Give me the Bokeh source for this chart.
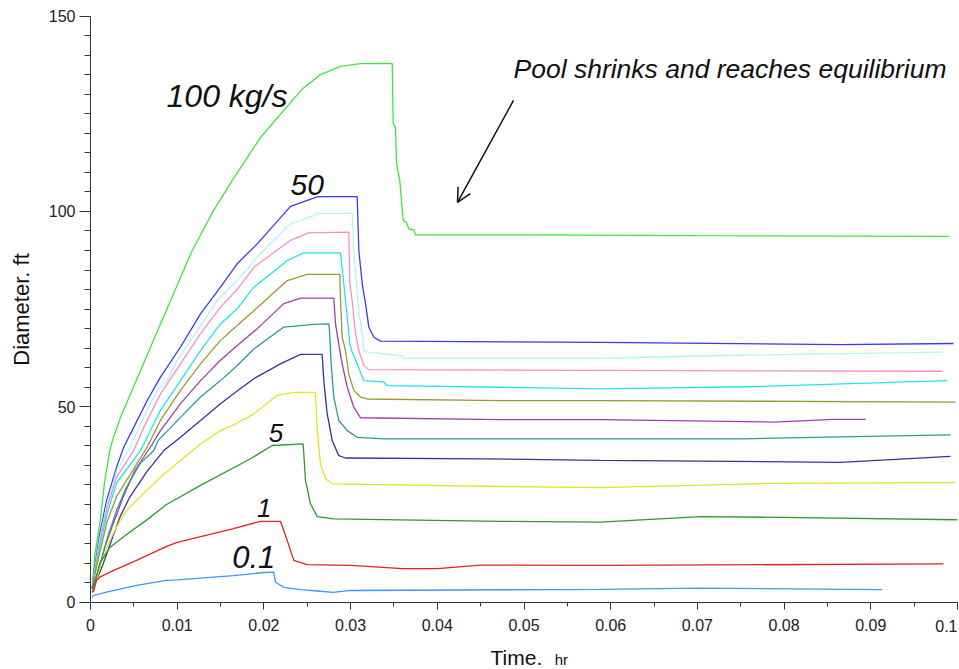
from bokeh.plotting import figure
from bokeh.models import Range1d, FixedTicker, Label, Arrow, OpenHead
from bokeh.embed import file_html
from bokeh.resources import INLINE

FONT = "Liberation Sans"

# ---- axis ticks ----
x_ticks = [0, 0.01, 0.02, 0.03, 0.04, 0.05, 0.06, 0.07, 0.08, 0.09, 0.1]
x_tick_labels = ["0", "0.01", "0.02", "0.03", "0.04", "0.05", "0.06", "0.07", "0.08", "0.09", "0.1"]
x_minor = [0.005, 0.015, 0.025, 0.035, 0.045, 0.055, 0.065, 0.075, 0.085, 0.095]
y_ticks = [0, 50, 100, 150]
y_minor = [5, 10, 15, 20, 25, 30, 35, 40, 45, 55, 60, 65, 70, 75, 80, 85, 90, 95,
           105, 110, 115, 120, 125, 130, 135, 140, 145]

# ---- series: time (hr) and pool diameter (ft) per release rate ----
t_100 = [0.0002, 0.00031, 0.0005, 0.00107, 0.00165, 0.00223, 0.00254, 0.00346, 0.00577, 0.0073,
         0.00961, 0.01173, 0.01419, 0.01649, 0.01961, 0.02445, 0.02653, 0.02884, 0.03114, 0.0348,
         0.03491, 0.03518, 0.0353, 0.03567, 0.03607, 0.03645, 0.03671, 0.03729, 0.03749, 0.05, 0.07, 0.099]
d_100 = [3.5, 6.4, 12.0, 20.1, 31.1, 38.8, 41.4, 47.3, 59.3, 67.2,
         79.1, 90.0, 100.2, 108.4, 118.9, 131.4, 135.0, 137.1, 137.8, 137.9,
         122.4, 121.5, 112.2, 107.9, 97.7, 97.2, 95.5, 95.3, 94.0, 94.0, 93.8, 93.6]

t_50 = [0.0002, 0.00038, 0.00107, 0.00185, 0.003, 0.00384, 0.005, 0.00654, 0.00807, 0.01038,
        0.01269, 0.01499, 0.01692, 0.01923, 0.02307, 0.02615, 0.02672, 0.03076, 0.03095, 0.03134,
        0.03172, 0.0321, 0.03268, 0.03345, 0.05882, 0.08651, 0.09954]
d_50 = [3.5, 7.3, 17.5, 26.0, 34.5, 39.7, 44.8, 51.6, 57.6, 65.3,
        73.8, 80.6, 86.6, 91.7, 101.3, 103.7, 103.8, 103.8, 90.0, 81.5,
        76.4, 70.4, 67.8, 66.8, 66.5, 65.9, 66.2]

t_45 = [0.0002, 0.0004, 0.0011, 0.0019, 0.003, 0.00461, 0.00577, 0.00769, 0.00884, 0.01,
        0.01231, 0.01461, 0.01692, 0.01923, 0.02307, 0.02576, 0.02615, 0.03018, 0.03037, 0.03068,
        0.03095, 0.03134, 0.03152, 0.0321, 0.0358, 0.0362, 0.05882, 0.07, 0.09824]
d_45 = [3.5, 7.0, 16.5, 25.0, 33.5, 39.7, 45.6, 54.2, 56.7, 61.9,
        69.5, 77.2, 82.3, 88.3, 96.8, 98.9, 99.5, 99.5, 90.0, 81.5,
        74.6, 68.7, 64.4, 64.0, 63.1, 62.4, 62.4, 63.0, 64.0]

t_40 = [0.0002, 0.0004, 0.0011, 0.0019, 0.003, 0.00499, 0.00615, 0.00807, 0.01038, 0.01269,
        0.01499, 0.01692, 0.01884, 0.02307, 0.02514, 0.02979, 0.02991, 0.03018, 0.03057, 0.03095,
        0.03152, 0.0321, 0.05882, 0.09824]
d_40 = [3.5, 7.0, 15.5, 24.0, 32.0, 38.8, 44.8, 53.3, 61.0, 68.7,
        75.5, 80.0, 85.7, 92.6, 94.5, 94.7, 81.5, 77.2, 68.7, 64.4,
        60.6, 59.5, 59.3, 59.1]

t_35 = [0.0002, 0.0004, 0.0011, 0.0019, 0.003, 0.00577, 0.00654, 0.00807, 0.01038, 0.01269,
        0.01499, 0.01692, 0.01884, 0.02269, 0.02457, 0.02884, 0.02922, 0.02961, 0.02991, 0.03018,
        0.03076, 0.03152, 0.03383, 0.03422, 0.04729, 0.05882, 0.07728, 0.09881]
d_35 = [3.5, 6.5, 14.5, 22.5, 30.5, 38.8, 42.2, 49.1, 56.7, 64.4,
        71.2, 75.1, 80.6, 87.4, 89.4, 89.4, 81.5, 72.9, 66.0, 64.0,
        61.0, 56.7, 56.3, 55.4, 55.0, 54.6, 55.2, 56.7]

t_30 = [0.0002, 0.0004, 0.0011, 0.0019, 0.003, 0.00654, 0.00807, 0.01038, 0.01269, 0.01499,
        0.01672, 0.01845, 0.02269, 0.025, 0.02875, 0.02884, 0.02903, 0.02941, 0.02979, 0.03037,
        0.03114, 0.03192, 0.04729, 0.05882, 0.09977]
d_30 = [3.5, 6.0, 13.0, 20.5, 27.0, 39.7, 46.5, 54.2, 61.0, 67.0,
        70.4, 73.8, 82.3, 83.9, 83.9, 77.2, 67.8, 64.4, 58.4, 54.2,
        52.5, 52.0, 51.6, 51.6, 51.2]

t_25 = [0.0002, 0.00089, 0.00165, 0.00262, 0.00377, 0.00511, 0.00704, 0.00807, 0.01038, 0.01269,
        0.01499, 0.01672, 0.01923, 0.0223, 0.02422, 0.02806, 0.02826, 0.02864, 0.02903, 0.02961,
        0.03037, 0.03114, 0.04729, 0.05882, 0.07878, 0.0857, 0.08939]
d_25 = [3.5, 8.0, 14.1, 20.1, 26.9, 33.7, 40.1, 43.9, 50.8, 56.7,
        61.9, 65.3, 70.0, 76.4, 77.8, 77.8, 71.2, 66.0, 61.0, 55.0,
        49.9, 47.2, 46.7, 46.7, 46.1, 46.8, 46.8]

t_20 = [0.0002, 0.00107, 0.00185, 0.003, 0.00415, 0.00569, 0.0073, 0.00781, 0.01038, 0.01269,
        0.01499, 0.01672, 0.01884, 0.0223, 0.02576, 0.02749, 0.02757, 0.02768, 0.02776, 0.02806,
        0.02864, 0.02961, 0.03076, 0.03383, 0.05882, 0.07532, 0.08339, 0.09919]
d_20 = [3.5, 9.0, 15.8, 23.5, 29.4, 35.4, 38.8, 41.4, 47.3, 52.5,
        56.7, 60.1, 64.8, 70.4, 71.1, 71.2, 69.5, 64.4, 61.0, 52.5,
        46.5, 43.9, 42.2, 41.8, 41.8, 41.8, 42.2, 42.8]

t_15 = [0.0002, 0.00069, 0.00146, 0.00242, 0.00338, 0.00453, 0.00646, 0.00845, 0.01038, 0.01269,
        0.01499, 0.01672, 0.01884, 0.02191, 0.02422, 0.02672, 0.02691, 0.0273, 0.02788, 0.02864,
        0.02941, 0.04533, 0.05882, 0.08651, 0.09919]
d_15 = [3.5, 5.6, 9.8, 15.8, 21.7, 26.9, 33.3, 38.8, 42.2, 46.5,
        50.8, 53.7, 57.2, 61.0, 63.4, 63.4, 56.7, 48.2, 41.4, 37.5,
        36.9, 36.7, 36.3, 35.8, 37.3]

t_10 = [0.0002, 0.00069, 0.00146, 0.00223, 0.003, 0.00415, 0.00646, 0.00877, 0.01269, 0.01499,
        0.01672, 0.01884, 0.02076, 0.02153, 0.02345, 0.02595, 0.02615, 0.02653, 0.0271, 0.02788,
        0.04729, 0.05882, 0.07878, 0.09977]
d_10 = [3.0, 5.6, 11.5, 15.8, 19.2, 23.5, 28.6, 33.3, 40.5, 43.9,
        45.6, 48.2, 51.6, 52.9, 53.7, 53.7, 43.9, 35.4, 31.6, 30.3,
        29.6, 29.3, 30.4, 30.6]

t_5 = [0.0002, 0.0005, 0.00107, 0.00223, 0.00415, 0.00646, 0.00877, 0.01269, 0.01845, 0.02096,
       0.02453, 0.0248, 0.02537, 0.02615, 0.02806, 0.04729, 0.05882, 0.07036, 0.07958, 0.09997]
d_5 = [2.5, 4.7, 10.0, 14.0, 17.3, 21.0, 25.0, 29.9, 36.7, 40.1,
       40.5, 31.1, 25.2, 21.9, 21.3, 20.7, 20.5, 21.9, 21.7, 21.1]

t_1 = [0.0002, 0.00038, 0.00069, 0.00107, 0.00262, 0.00531, 0.00877, 0.01, 0.01649, 0.01961,
       0.02191, 0.02269, 0.02345, 0.025, 0.03, 0.036, 0.04, 0.045, 0.05882, 0.09839]
d_1 = [2.5, 3.0, 5.6, 6.4, 8.1, 10.7, 14.3, 15.3, 18.8, 20.7,
       20.7, 15.8, 10.7, 9.6, 9.4, 8.6, 8.6, 9.5, 9.4, 9.8]

t_01 = [0.0002, 0.00031, 0.00185, 0.00531, 0.00877, 0.01, 0.01649, 0.02, 0.02114, 0.02134,
        0.0223, 0.02422, 0.02653, 0.028, 0.03, 0.05882, 0.07036, 0.09131]
d_01 = [1.2, 1.7, 2.6, 4.3, 5.6, 5.7, 6.8, 7.6, 7.7, 5.1,
        3.8, 3.2, 2.8, 2.5, 3.0, 3.3, 3.6, 3.2]

series = [
    (t_100, d_100, "#3fe63f"),
    (t_50, d_50, "#3a3af0"),
    (t_45, d_45, "#aef6f6"),
    (t_40, d_40, "#f78fc8"),
    (t_35, d_35, "#22e4f0"),
    (t_30, d_30, "#9c9a30"),
    (t_25, d_25, "#a23ea8"),
    (t_20, d_20, "#2f9898"),
    (t_15, d_15, "#34349c"),
    (t_10, d_10, "#e4e420"),
    (t_5, d_5, "#2e9a2e"),
    (t_1, d_1, "#e02424"),
    (t_01, d_01, "#3a9af8"),
]

# ---- annotation texts (positions give the top-left of each text) ----
curve_labels = ["100 kg/s", "50", "5", "1", "0.1"]
curve_label_x = [0.00877, 0.02307, 0.02057, 0.0192, 0.01634]
curve_label_y = [134.2, 109.3, 45.5, 26.5, 14.4]
curve_label_size = ["32px", "30px", "26px", "26px", "31px"]

note_text = "Pool shrinks and reaches equilibrium"
note_x, note_y = 0.04879, 140.2
arrow_x0, arrow_y0, arrow_x1, arrow_y1 = 0.04879, 128.4, 0.04233, 102.3

# frame covers the whole canvas; axes are pinned at x=0 / y=0
PX_PER_X = 8670.0
PX_PER_Y = 3.908
p = figure(width=959, height=669, output_backend="svg", toolbar_location=None,
           x_range=Range1d(-90 / PX_PER_X, 0.1 + 2 / PX_PER_X),
           y_range=Range1d(-67.3 / PX_PER_Y, 150 + 15.5 / PX_PER_Y),
           min_border=0)
p.outline_line_color = None
p.grid.visible = False
p.background_fill_color = "white"
p.border_fill_color = "white"

for t, d, c in series:
    p.line(t, d, line_color=c, line_width=1.3)

# x axis
xa = p.xaxis[0]
xa.fixed_location = 0
xa.bounds = (0, 0.1)
xa.ticker = FixedTicker(ticks=x_ticks, minor_ticks=x_minor)
xa.major_label_overrides = {v: (s if s != "0.1" else "") for v, s in zip(x_ticks, x_tick_labels)}
xa.major_tick_out = 7
xa.major_tick_in = 0
xa.minor_tick_out = 4
xa.minor_tick_in = 0
xa.major_label_standoff = 10
xa.major_label_text_font = FONT
xa.major_label_text_font_size = "16px"
xa.major_label_text_color = "#222222"
xa.axis_line_color = "#333333"
xa.major_tick_line_color = "#333333"
xa.minor_tick_line_color = "#333333"

# y axis
ya = p.yaxis[0]
ya.fixed_location = 0
ya.bounds = (0, 150)
ya.ticker = FixedTicker(ticks=y_ticks, minor_ticks=y_minor)
ya.major_tick_out = 11
ya.major_tick_in = 0
ya.minor_tick_out = 6
ya.minor_tick_in = 0
ya.major_label_standoff = 4
ya.major_label_text_font = FONT
ya.major_label_text_font_size = "16px"
ya.major_label_text_color = "#222222"
ya.axis_line_color = "#333333"
ya.major_tick_line_color = "#333333"
ya.minor_tick_line_color = "#333333"
ya.axis_label = "Diameter. ft"
ya.axis_label_text_font = FONT
ya.axis_label_text_font_size = "22px"
ya.axis_label_text_font_style = "normal"
ya.axis_label_text_color = "#111111"
ya.axis_label_standoff = 12

# last x tick label kept inside the canvas
p.add_layout(Label(x=0.1, y=0, text=x_tick_labels[-1], text_align="right", text_baseline="top",
                   y_offset=-18, text_font=FONT, text_font_size="16px", text_color="#222222"))

# x axis title: "Time." with smaller "hr"
p.add_layout(Label(x=0.04614, y=0, text="Time.", text_baseline="top", y_offset=-43.5,
                   text_font=FONT, text_font_size="21px", text_color="#111111"))
p.add_layout(Label(x=0.05355, y=0, text="hr", text_baseline="top", y_offset=-49,
                   text_font=FONT, text_font_size="15px", text_color="#111111"))

for txt, lx, ly, fs in zip(curve_labels, curve_label_x, curve_label_y, curve_label_size):
    p.add_layout(Label(x=lx, y=ly, text=txt, text_baseline="top", text_font=FONT,
                       text_font_size=fs, text_font_style="italic", text_color="#111111"))

p.add_layout(Label(x=note_x, y=note_y, text=note_text, text_baseline="top", text_font=FONT,
                   text_font_size="26.5px", text_font_style="italic", text_color="#111111"))
p.add_layout(Arrow(end=OpenHead(size=14, line_width=1.5, line_color="#111111"),
                   x_start=arrow_x0, y_start=arrow_y0, x_end=arrow_x1, y_end=arrow_y1,
                   line_width=1.5, line_color="#111111"))

open("out.html", "w").write(file_html(p, INLINE))
